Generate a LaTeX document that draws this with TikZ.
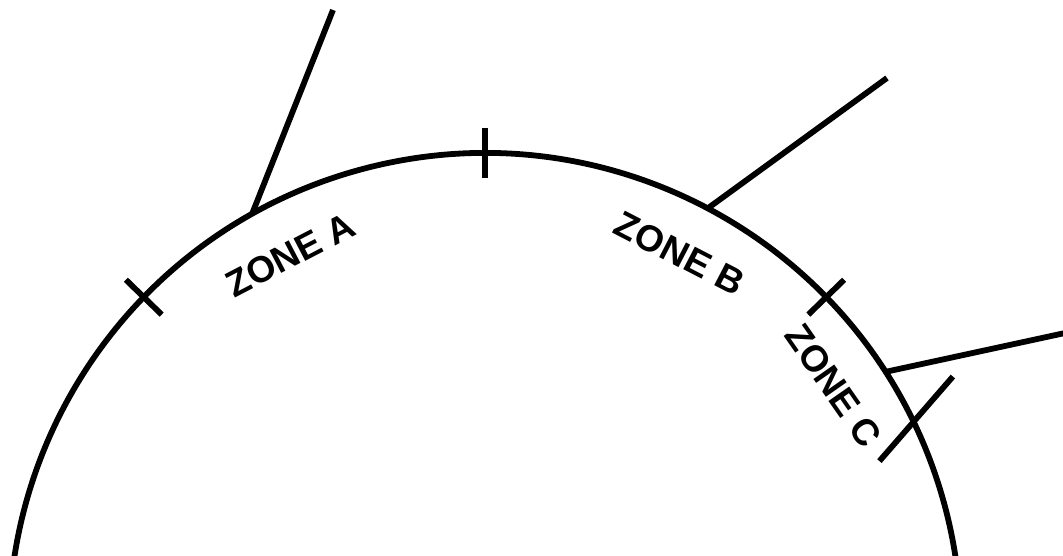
\documentclass[tikz,border=0pt]{standalone}
\usepackage{fontspec}
\setmainfont{Liberation Sans}
\tikzset{
  linea/.style={line width=3.3pt},
  zona/.style={font=\fontsize{21}{24}\selectfont\bfseries, inner sep=0pt},
}
\begin{document}
\begin{tikzpicture}[line cap=butt]
        \useasboundingbox (0,0) rectangle (21.26,11.10);
        \clip (0,0) rectangle (21.26,11.10);
        % centro e raggio
        \coordinate (c) at (9.70,-1.48);
        \def\R{9.52}

        % arco
        \draw[linea] ([shift={(195:\R)}]c) arc[start angle=195, end angle=-15, radius=\R];

        % tacche
        \draw[linea] ([shift={(135.8:\R-0.5)}]c) -- ([shift={(135.8:\R+0.5)}]c);
        \draw[linea] ([shift={(90:\R-0.5)}]c) -- ([shift={(90:\R+0.5)}]c);
        \draw[linea] ([shift={(44.2:\R-0.5)}]c) -- ([shift={(44.2:\R+0.5)}]c);
        \coordinate (t) at ([shift={(25.8:\R)}]c);
        \draw[linea] ([shift={(229:1.04)}]t) -- ([shift={(49:1.2)}]t);

        % linee uscenti
        \coordinate (pa) at ([shift={(119.3:\R)}]c);
        \coordinate (qa) at (6.66,10.90);
        \coordinate (pb) at ([shift={(62.1:\R)}]c);
        \coordinate (qb) at (17.74,9.54);
        \coordinate (pc) at ([shift={(32.7:\R)}]c);
        \coordinate (qc) at (21.30,4.44);
        \draw[linea] (pa) -- (qa);
        \draw[linea] (pb) -- (qb);
        \draw[linea] (pc) -- (qc);

        % etichette
        \node[zona, rotate=27.5] (za) at ([shift={(117.5:8.44)}]c) {ZONE A};
        \node[zona, rotate=-27.4] (zb) at ([shift={(62.6:8.46)}]c) {ZONE B};
        \node[zona, rotate=-55.1] (zc) at ([shift={(34.9:8.50)}]c) {ZONE C};
    \end{tikzpicture}
\end{document}
